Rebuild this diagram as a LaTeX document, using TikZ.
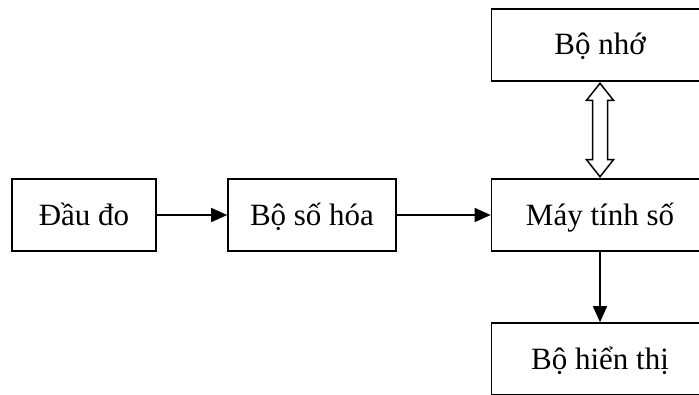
\documentclass[tikz,border=0pt]{standalone}
\usepackage{fontspec}
\setmainfont{Liberation Serif}
\usetikzlibrary{arrows.meta,calc}
\begin{document}
\begin{tikzpicture}[x=1pt,y=-1pt,
  blk/.style={draw,line width=1.6pt,rectangle,minimum height=72pt,inner sep=0pt,text depth=2pt,font=\fontsize{31}{34}\selectfont},
  arr/.style={line width=1.5pt,-{Triangle[length=16pt,width=14pt]}}]
\useasboundingbox (0,0) rectangle (699,394);
\node[blk,minimum width=144pt] (dau) at (84,215) {Đầu đo};
\node[blk,minimum width=168pt] (so) at (312,215) {Bộ số hóa};
\node[blk,minimum width=217pt] (may) at (600,215) {Máy tính số};
\node[blk,minimum width=217pt] (nho) at (600,45) {Bộ nhớ};
\node[blk,minimum width=217pt] (hien) at (600,359) {Bộ hiển thị};
\draw[arr] (dau.east) -- (so.west);
\draw[arr] (so.east) -- (may.west);
\draw[arr] (may.south) -- (hien.north);
\coordinate (t) at ($(nho.south)+(0,1.5)$);
\coordinate (b) at ($(may.north)+(0,-1.5)$);
\draw[line width=1.5pt,line join=miter,fill=white]
  (t) -- ++(13.5,17) -- ++(-6,0) -- ($(b)+(7.5,-17)$) -- ++(6,0) -- (b)
  -- ++(-13.5,-17) -- ++(6,0) -- ($(t)+(-7.5,17)$) -- ++(-6,0) -- cycle;
\end{tikzpicture}
\end{document}
